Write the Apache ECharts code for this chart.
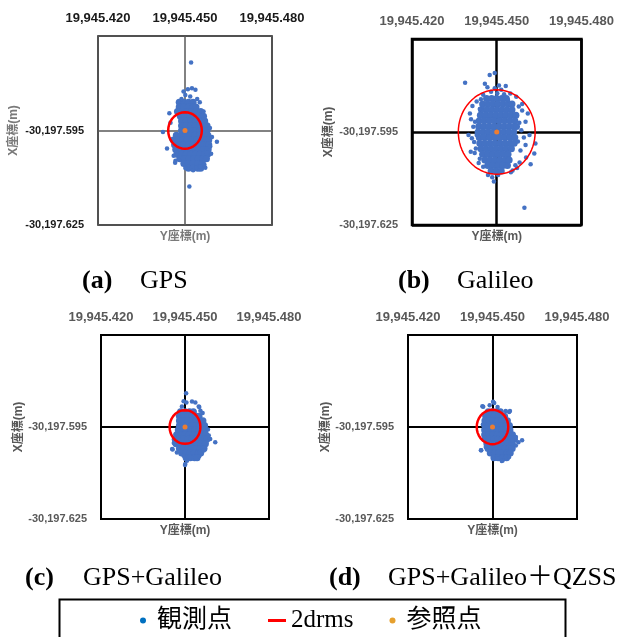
<!DOCTYPE html>
<html>
<head>
<meta charset="utf-8">
<title>2drms</title>
<script src="https://cdn.jsdelivr.net/npm/echarts@6/dist/echarts.min.js"></script>
<style>
  html, body { margin: 0; padding: 0; background: #fff; }
  #chart { width: 617px; height: 637px; }
</style>
</head>
<body>
<div id="chart"></div>
<script>
// reference point, metres (Y = easting on the horizontal axis, X = northing)
var refY = 19945.450
var refX = -30197.595
var spanMm = 30

// observed points as offsets from the reference point, in mm
// core rows are [dX, [dY, dY, ...]], sparse points are [dY, dX]
var gpsCore = [
  [9.0, [-2.0, -0.4, 1.2, 2.8]],
  [7.5, [-2.0, -0.4, 1.2, 2.8, 3.8]],
  [6.0, [-2.6, -1.0, 0.6, 2.2, 3.8, 5.4]],
  [4.5, [-1.6, 0, 1.6, 3.2, 4.8, 6.4]],
  [3.0, [-1.2, 0.4, 2.0, 3.6, 5.2, 6.8]],
  [1.5, [-1.2, 0.4, 2.0, 3.6, 5.2, 6.8, 7.6]],
  [0, [-1.2, 0.4, 2.0, 3.6, 5.2, 6.8, 7.6]],
  [-1.5, [-3.0, -1.4, 0.2, 1.8, 3.4, 5.0, 6.6, 7.9]],
  [-3.0, [-4.0, -2.4, -0.8, 0.8, 2.4, 4.0, 5.6, 7.2, 8.2]],
  [-4.5, [-3.6, -2.0, -0.4, 1.2, 2.8, 4.4, 6.0, 7.6, 8.2]],
  [-6.0, [-3.2, -1.6, 0, 1.6, 3.2, 4.8, 6.4, 8.0]],
  [-7.5, [-2.8, -1.2, 0.4, 2.0, 3.6, 5.2, 6.8, 7.8]],
  [-9.0, [-1.8, -0.2, 1.4, 3.0, 4.6, 6.2, 7.4]],
  [-10.5, [-0.4, 1.2, 2.8, 4.4, 6.0]],
  [-12.0, [1.2, 2.8, 4.4, 5.4]]
]
var gpsSparse = [
  [2.1, 21.6], [-0.5, 12.4], [1.0, 13.1], [2.4, 13.4], [3.6, 12.9], [0.1, 11.3],
  [1.8, 10.8], [5.1, 9.0], [6.4, 6.0], [-5.4, 5.5], [-2.2, 5.5], [-7.6, -0.5],
  [8.6, 0.8], [9.3, -2.1], [11.0, -3.6], [8.7, -5.1], [-6.2, -5.7], [-3.9, -8.0],
  [-3.3, -9.6], [0.1, -11.9], [2.8, -12.6], [5.3, -11.4], [6.7, -10.9], [1.5, -17.8],
  [-3.4, -10.2], [7.0, -11.8], [-5.0, 2.5], [4.2, 10.0], [-1.2, 10.0], [9.0, -7.4],
  [-4.6, -3.0]
]

var galCore = [
  [10.8, [-3.6, -1.8, 0, 1.8, 3.4]],
  [9.0, [-5.0, -3.2, -1.4, 0.4, 2.2, 4.0, 5.4]],
  [7.2, [-5.4, -3.6, -1.8, 0, 1.8, 3.6, 5.4]],
  [5.4, [-5.8, -4.0, -2.2, -0.4, 1.4, 3.2, 5.0, 6.8]],
  [3.6, [-6.2, -4.4, -2.6, -0.8, 1.0, 2.8, 4.6, 6.4]],
  [1.8, [-6.4, -4.6, -2.8, -1.0, 0.8, 2.6, 4.4, 6.2, 7.0]],
  [0, [-6.6, -4.8, -3.0, -1.2, 0.6, 2.4, 4.2, 6.0]],
  [-1.8, [-6.2, -4.4, -2.6, -0.8, 1.0, 2.8, 4.6, 6.4]],
  [-3.6, [-6.0, -4.2, -2.4, -0.6, 1.2, 3.0, 4.8, 6.2]],
  [-5.4, [-5.6, -3.8, -2.0, -0.2, 1.6, 3.4, 5.2]],
  [-7.2, [-5.0, -3.2, -1.4, 0.4, 2.2, 4.0]],
  [-9.0, [-4.2, -2.4, -0.6, 1.2, 3.0, 4.4]],
  [-10.8, [-3.2, -1.4, 0.4, 2.2, 3.8]],
  [-12.6, [-2.0, -0.2, 1.6]]
]
var galSparse = [
  [-0.7, 19.0], [-2.5, 18.4], [-11.2, 15.9], [-3.3, 14.4], [0.8, 15.0], [-0.7, 14.1],
  [0.2, 12.5], [-4.8, 12.0], [-7.1, 9.8], [4.0, 10.3], [6.9, 11.4], [9.0, 6.9],
  [11.0, 6.0], [-9.1, 4.1], [-7.7, 3.3], [10.2, 3.3], [-7.1, -1.0], [8.7, 0.6],
  [10.2, -4.2], [13.7, -3.7], [13.3, -6.9], [10.4, -8.2], [8.1, -9.8], [6.6, -10.7],
  [3.4, -11.0], [-6.0, -8.6], [-4.8, -11.2], [-3.1, -13.9], [0.5, -13.9], [9.8, -24.4],
  [-7.4, -5.3], [-8.3, 1.7], [6.3, 5.5], [7.5, -3.1], [-6.0, 7.4], [2.6, 12.2],
  [-5.6, 10.6], [7.8, 8.2], [-8.0, -3.2], [5.6, -12.4], [-1.6, -14.6], [8.4, -6.0],
  [-9.5, 6.0], [-8.8, -2.0], [-7.8, -6.8], [9.6, -1.8], [8.0, 3.0], [-8.6, 8.4],
  [-2.0, 13.0], [4.8, 12.4], [1.6, 13.6], [-6.4, -10.0], [5.0, -13.0], [7.2, -11.6],
  [-9.2, -6.4], [11.6, -1.0], [9.0, 9.0], [-4.2, 15.6], [3.2, 14.8], [-10.0, -1.0],
  [12.0, -10.4], [-1.0, -16.0]
]

var geCore = [
  [5.0, [-1.6, 0, 1.6, 3.0]],
  [3.5, [-2.0, -0.5, 1.0, 2.5, 4.0, 5.0]],
  [2.0, [-2.0, -0.5, 1.0, 2.5, 4.0, 5.5, 6.4]],
  [0.5, [-2.0, -0.5, 1.0, 2.5, 4.0, 5.5, 7.0]],
  [-1.0, [-2.4, -0.9, 0.6, 2.1, 3.6, 5.1, 6.6, 7.1]],
  [-2.5, [-3.0, -1.5, 0, 1.5, 3.0, 4.5, 6.0, 7.4]],
  [-4.0, [-3.5, -2.0, -0.5, 1.0, 2.5, 4.0, 5.5, 7.0, 7.8]],
  [-5.5, [-3.2, -1.7, -0.2, 1.3, 2.8, 4.3, 5.8, 7.3]],
  [-7.0, [-2.0, -0.5, 1.0, 2.5, 4.0, 5.5, 6.8]],
  [-8.5, [-1.2, 0.3, 1.8, 3.3, 4.8, 5.6]],
  [-10.0, [0.4, 1.9, 3.4, 4.3]]
]
var geSparse = [
  [0.5, 8.0], [-0.5, 8.4], [2.5, 8.3], [3.7, 8.0], [4.9, 6.7], [5.5, 5.3],
  [-1.1, 6.7], [6.3, 4.6], [8.5, -2.8], [9.0, -3.9], [10.8, -5.0], [-4.0, -5.2],
  [-4.6, -7.2], [-2.9, -8.3], [-0.5, -9.4], [6.7, -7.7], [5.5, -8.8], [0.1, -12.1],
  [0.7, -11.0], [0.4, 11.0], [5.1, 6.5], [5.1, -9.5], [-4.4, -7.3], [0.0, -12.4],
  [-2.6, -1.2], [8.2, -0.8]
]

var gqCore = [
  [5.0, [-1.5, 0, 1.5, 2.8]],
  [3.5, [-2.4, -0.9, 0.6, 2.1, 3.6, 4.3]],
  [2.0, [-2.7, -1.2, 0.3, 1.8, 3.3, 4.8, 5.3]],
  [0.5, [-2.7, -1.2, 0.3, 1.8, 3.3, 4.8, 6.0]],
  [-1.0, [-2.8, -1.3, 0.2, 1.7, 3.2, 4.7, 6.2]],
  [-2.5, [-2.8, -1.3, 0.2, 1.7, 3.2, 4.7, 6.2, 7.1]],
  [-4.0, [-2.6, -1.1, 0.4, 1.9, 3.4, 4.9, 6.4, 7.8]],
  [-5.5, [-2.0, -0.5, 1.0, 2.5, 4.0, 5.5, 7.0]],
  [-7.0, [-1.6, -0.1, 1.4, 2.9, 4.4, 5.9, 7.0]],
  [-8.5, [-0.8, 0.7, 2.2, 3.7, 5.2, 6.3]],
  [-10.0, [0.5, 2.0, 3.5, 5.0]]
]
var gqSparse = [
  [0.6, 7.8], [-1.0, 7.1], [-3.6, 6.8], [1.8, 6.5], [4.7, 5.2], [5.9, 4.9],
  [2.0, 5.2], [-4.1, -7.6], [8.3, -3.3], [8.3, -6.0], [7.1, -4.3], [1.8, -10.3],
  [3.6, -10.9], [5.9, -9.8], [-2.4, -6.5], [-3.3, 6.6], [10.5, -4.3], [-4.0, -7.6],
  [3.3, -11.1], [0.2, 8.2], [6.2, 5.2], [-3.4, 0.8], [9.2, -5.0]
]

// 2drms radius of each solution, mm
var drmsMm = [5.8, 13.6, 5.5, 5.6]
var panelTags = ['(a)', '(b)', '(c)', '(d)']
var panelNames = ['GPS', 'Galileo', 'GPS+Galileo', 'GPS+Galileo＋QZSS']
var legendNames = ['観測点', '2drms', '参照点']

var cores = [gpsCore, galCore, geCore, gqCore]
var sparses = [gpsSparse, galSparse, geSparse, gqSparse]

// layout and look of the four panels
var panels = [
  { left: 98, top: 36, width: 174, height: 189, lab: '#1a1a1a', title: '#7a7a7a', cross: '#595959', crossW: 1.5, border: 1.5, ring: 2.5, nameGapY: 78, tag: [82, 281], text: [140, 281] },
  { left: 412, top: 39, width: 171, height: 186, lab: '#595959', title: '#595959', cross: '#000', crossW: 2.5, border: 2.5, ring: 1.5, nameGapY: 77, tag: [398, 281], text: [457, 281] },
  { left: 101, top: 335, width: 168, height: 184, lab: '#595959', title: '#595959', cross: '#000', crossW: 2, border: 2, ring: 2.5, nameGapY: 76, tag: [25, 578], text: [83, 578] },
  { left: 408, top: 335, width: 169, height: 184, lab: '#595959', title: '#595959', cross: '#000', crossW: 2, border: 2, ring: 2.5, nameGapY: 76, tag: [329, 578], text: [388, 578] }
]

var sansFont = '"Liberation Sans", "Noto Sans CJK JP", sans-serif'
var serifFont = '"Liberation Serif", "Noto Sans CJK JP", serif'

function rowsToPoints(rows) {
  var out = []
  rows.forEach(function (r) {
    r[1].forEach(function (dy) { out.push([dy, r[0]]) })
  })
  return out
}

// circle of the given radius round the reference point
function ring(r) {
  var pts = []
  for (var a = 0; a <= 360; a += 5) {
    var t = a * Math.PI / 180
    pts.push([r * Math.cos(t), r * Math.sin(t)])
  }
  return pts
}

function fmt(v) {
  return v.toLocaleString('en-US', { minimumFractionDigits: 3, maximumFractionDigits: 3 })
}

var myChart = echarts.init(document.getElementById('chart'))

var grids = [], xAxes = [], yAxes = [], series = [], graphics = []

panels.forEach(function (p, i) {
  grids.push({
    left: p.left, top: p.top, width: p.width, height: p.height,
    show: true, borderColor: '#000', borderWidth: p.border, backgroundColor: '#fff'
  })
  xAxes.push({
    gridIndex: i, type: 'value', position: 'top',
    min: -spanMm, max: spanMm, interval: spanMm,
    axisLine: { show: false }, axisTick: { show: false },
    axisLabel: {
      margin: 11, color: p.lab, fontSize: 13, fontWeight: 'bold', fontFamily: sansFont,
      formatter: function (v) { return fmt(refY + v / 1000) }
    },
    splitLine: { show: true, lineStyle: { color: p.cross, width: p.crossW } }
  })
  // bottom axis only carries the title
  xAxes.push({
    gridIndex: i, type: 'value', position: 'bottom',
    min: -spanMm, max: spanMm,
    axisLine: { show: false }, axisTick: { show: false },
    axisLabel: { show: false }, splitLine: { show: false },
    name: 'Y座標(m)', nameLocation: 'middle', nameGap: 6,
    nameTextStyle: { color: p.title, fontSize: 12, fontWeight: 'bold', fontFamily: sansFont }
  })
  yAxes.push({
    gridIndex: i, type: 'value',
    min: -spanMm, max: spanMm, interval: spanMm,
    axisLine: { show: false }, axisTick: { show: false },
    axisLabel: {
      margin: 14, color: p.lab, fontSize: 11, fontWeight: 'bold', fontFamily: sansFont,
      formatter: function (v) { return v > 0 ? '' : fmt(refX + v / 1000) }
    },
    splitLine: { show: true, lineStyle: { color: p.cross, width: p.crossW } },
    name: 'X座標(m)', nameLocation: 'middle', nameGap: p.nameGapY,
    nameTextStyle: { color: p.title, fontSize: 12, fontWeight: 'bold', fontFamily: sansFont }
  })

  series.push({
    name: legendNames[0], type: 'scatter', xAxisIndex: i * 2, yAxisIndex: i,
    data: rowsToPoints(cores[i]), symbolSize: 7, z: 2,
    itemStyle: { color: '#4472C4', opacity: 1 }
  })
  series.push({
    name: legendNames[0], type: 'scatter', xAxisIndex: i * 2, yAxisIndex: i,
    data: sparses[i], symbolSize: 4.5, z: 2,
    itemStyle: { color: '#4472C4', opacity: 1 }
  })
  series.push({
    name: legendNames[1], type: 'line', xAxisIndex: i * 2, yAxisIndex: i,
    data: ring(drmsMm[i]), symbol: 'none', smooth: false, z: 3,
    lineStyle: { color: '#FF0000', width: p.ring },
    itemStyle: { color: '#FF0000' }
  })
  series.push({
    name: legendNames[2], type: 'scatter', xAxisIndex: i * 2, yAxisIndex: i,
    data: [[0, 0]], symbolSize: 5, z: 4,
    itemStyle: { color: '#ED7D31', opacity: 1 }
  })

  graphics.push({
    type: 'text', x: p.tag[0], y: p.tag[1],
    style: { text: panelTags[i], font: 'bold 26px ' + serifFont, fill: '#000', verticalAlign: 'middle' }
  })
  graphics.push({
    type: 'text', x: p.text[0], y: p.text[1],
    style: { text: panelNames[i], font: '26px ' + serifFont, fill: '#000', verticalAlign: 'middle' }
  })
})

// legend frame, cut off by the bottom edge
graphics.push({
  type: 'rect', left: 57, top: 597, z: -1,
  shape: { width: 506, height: 60 },
  style: { fill: 'none', stroke: '#000', lineWidth: 2 }
})

var option = {
  animation: false,
  backgroundColor: '#fff',
  grid: grids,
  xAxis: xAxes,
  yAxis: yAxes,
  legend: {
    left: 140, top: 608, padding: 0,
    itemWidth: 18, itemHeight: 6, itemGap: 36,
    textStyle: { fontSize: 25, color: '#000', fontFamily: serifFont },
    data: [
      { name: legendNames[0], icon: 'circle', itemStyle: { color: '#0070C0', borderWidth: 0 } },
      { name: legendNames[1], icon: 'path://M0,0L0,0ZM18,6L18,6ZM0,1.5L18,1.5L18,4.5L0,4.5Z', itemStyle: { color: '#FF0000', borderWidth: 0 } },
      { name: legendNames[2], icon: 'circle', itemStyle: { color: '#E6A02E', borderWidth: 0 } }
    ]
  },
  graphic: graphics,
  series: series
}

option && myChart.setOption(option)
window.addEventListener('resize', myChart.resize)
</script>
</body>
</html>
